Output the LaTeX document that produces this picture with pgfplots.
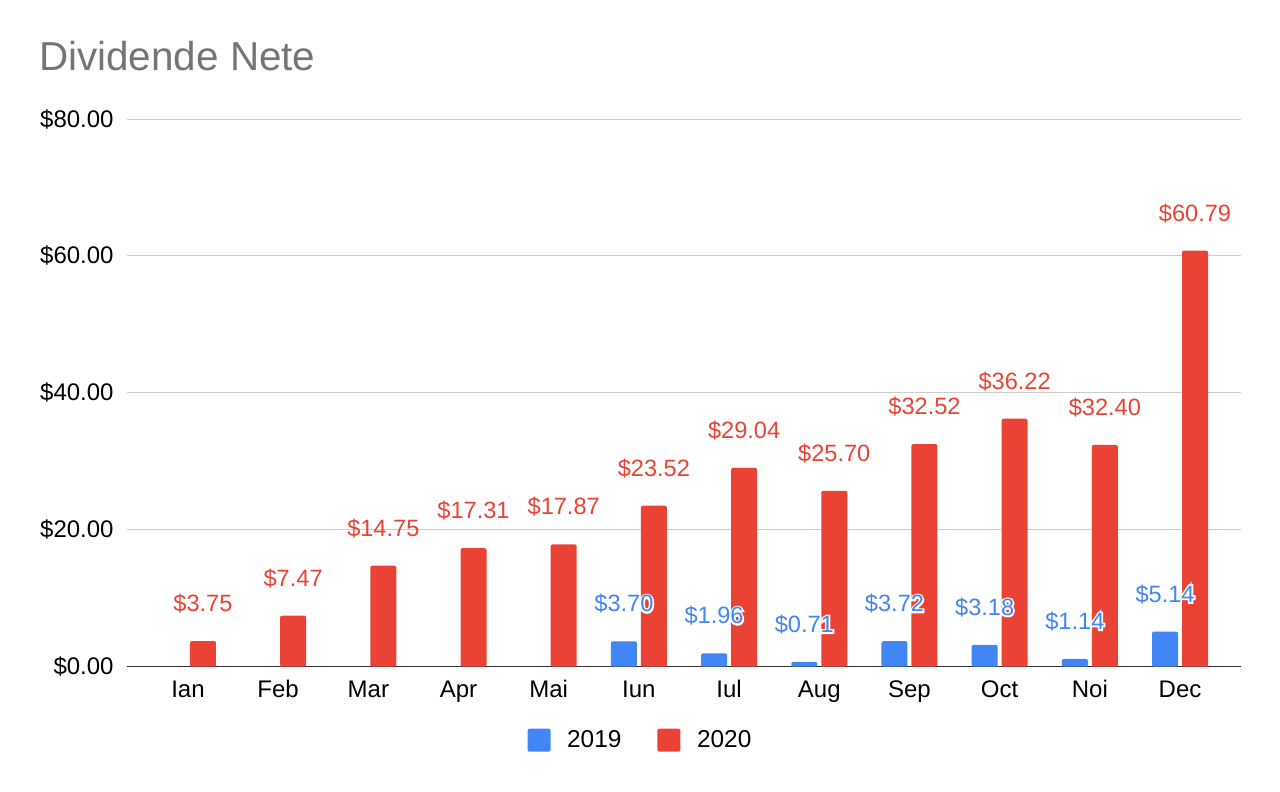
\documentclass[border=0pt]{standalone}
\usepackage{fontspec}
\setmainfont{Liberation Sans}
\newfontfamily\halofont{Liberation Sans}[FakeBold=14]
\usepackage{pgfplots}
\pgfplotsset{compat=1.18}
\definecolor{gblue}{HTML}{4285F4}
\definecolor{gred}{HTML}{EA4335}
\definecolor{titlegray}{HTML}{757575}
\definecolor{gridgray}{HTML}{CCCCCC}
\definecolor{axisdark}{HTML}{333333}
\newcommand\dollar[1]{\$\pgfmathprintnumber[fixed,fixed zerofill,precision=2]{#1}}
\begin{document}
\begin{tikzpicture}[x=1pt,y=1pt]
\path[use as bounding box] (0,0) rectangle (640,396);
\node[anchor=base west, text=titlegray, font=\fontsize{20.2}{24}\selectfont, inner sep=0pt] at (19.4,360.5) {Dividende Nete};
\begin{axis}[
  at={(63.5pt,62.65pt)}, anchor=south west, scale only axis,
  width=557pt, height=273.85pt,
  xmin=-0.676, xmax=11.676, ymin=0, ymax=80,
  ytick={0,20,40,60,80},
  xtick={0,...,11},
  xticklabels={Ian,Feb,Mar,Apr,Mai,Iun,Iul,Aug,Sep,Oct,Noi,Dec},
  ymajorgrids, grid style={gridgray, line width=0.5pt},
  axis x line*=bottom, axis y line*=left,
  x axis line style={axisdark, line width=0.7pt, -},
  y axis line style={draw=none},
  major tick length=0pt,
  tick label style={font=\fontsize{12}{14}\selectfont, text=black},
  /pgf/number format/assume math mode=true,
  yticklabel={\dollar{\tick}},
  yticklabel style={anchor=east, inner sep=0pt, xshift=-6.5pt},
  xticklabel style={anchor=base, inner sep=0pt, yshift=-15.25pt},
  legend image code/.code={\fill[#1] (0pt,-5.75pt) rectangle (11.5pt,5.75pt);},
  reverse legend,
  legend style={at={(0.4618,-0.1343)}, anchor=center, draw=none, fill=none,
    legend columns=2, font=\fontsize{12.2}{14}\selectfont, inner sep=0pt,
    /tikz/every odd column/.append style={column sep=6.3pt},
    /tikz/every even column/.append style={column sep=16pt}},
]
\addplot[ybar, bar width=13pt, bar shift=7.5pt, fill=gred, draw=none, rounded corners=1pt,
  nodes near coords={\dollar{\pgfplotspointmeta}},
  every node near coord/.append style={text=gred, font=\fontsize{11.8}{14}\selectfont, anchor=base, xshift=7.5pt, yshift=14.7pt, inner sep=0pt}]
  coordinates {(0,3.75) (1,7.47) (2,14.75) (3,17.31) (4,17.87) (5,23.52) (6,29.04) (7,25.70) (8,32.52) (9,36.22) (10,32.40) (11,60.79)};
\addlegendentry{2020}
\addplot[ybar, bar width=13pt, bar shift=-7.5pt, fill=gblue, draw=none, rounded corners=1pt,
  nodes near coords={\rlap{\textcolor{white}{\halofont\dollar{\pgfplotspointmeta}}}\dollar{\pgfplotspointmeta}},
  every node near coord/.append style={text=gblue, font=\fontsize{11.8}{14}\selectfont, anchor=base, xshift=-7.5pt, yshift=14.7pt, inner sep=0pt}]
  coordinates {(5,3.70) (6,1.96) (7,0.71) (8,3.72) (9,3.18) (10,1.14) (11,5.14)};
\addlegendentry{2019}
\end{axis}
\end{tikzpicture}
\end{document}
